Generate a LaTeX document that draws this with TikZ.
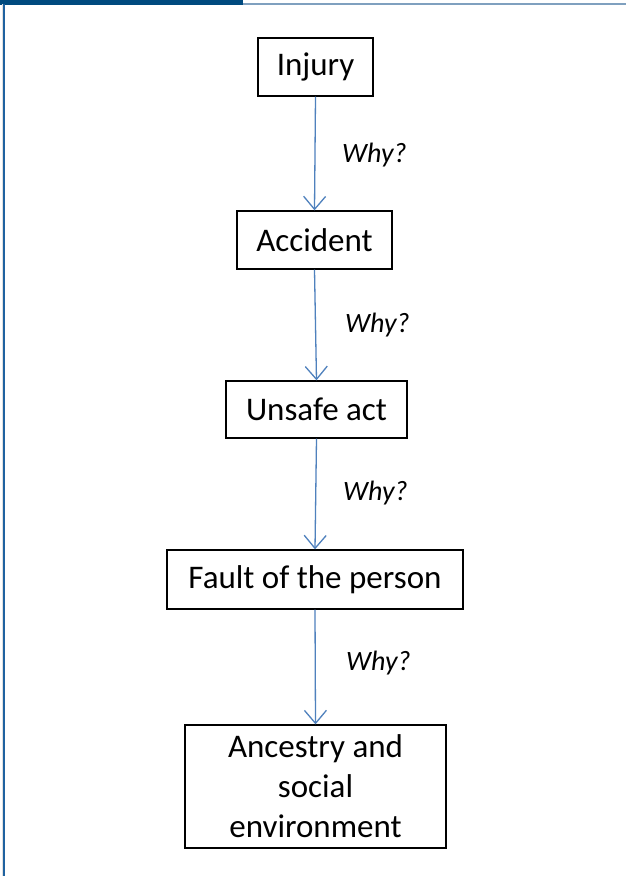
\documentclass[tikz,border=0pt]{standalone}
\usepackage{fontspec}
\setmainfont{Carlito}
\usetikzlibrary{arrows.meta}
\definecolor{barblue}{HTML}{004A7F}
\definecolor{thinline}{HTML}{7FA0BF}
\definecolor{sideblue}{HTML}{1F62A0}
\definecolor{arrowblue}{HTML}{4F81BD}
\begin{document}
\begin{tikzpicture}[x=1pt,y=-1pt,
  box/.style={draw=black,line width=1.3pt,inner sep=0pt,font=\fontsize{33}{40}\selectfont,align=center},
  why/.style={anchor=west,inner sep=0pt,font=\fontsize{28}{32}\selectfont\itshape},
  conn/.style={draw=arrowblue,line width=1.3pt,-{Straight Barb[length=13pt,width=22pt,line width=1.3pt]}}]
\useasboundingbox[fill=white] (0,0) rectangle (626,876);
\fill[barblue] (0,0) rectangle (243,4.5);
\fill[thinline] (243,2.5) rectangle (626,4.5);
\fill[black!12] (2,4) rectangle (3.2,876);
\fill[sideblue] (3.2,4) rectangle (5,876);
\node[box,minimum width=115pt,minimum height=58pt] (inj) at (315.5,67) {Injury};
\node[box,minimum width=155pt,minimum height=58pt] (acc) at (314.5,240) {Accident};
\node[box,minimum width=181pt,minimum height=57pt] (uns) at (316.5,409.5) {Unsafe act};
\node[box,minimum width=296pt,minimum height=59pt] (fau) at (315,579.5) {Fault of the person};
\node[box,minimum width=261pt,minimum height=123pt] (anc) at (315.5,786.5) {Ancestry and\\social\\environment};
\draw[conn] (inj.south) -- (acc.north);
\draw[conn] (acc.south) -- (uns.north);
\draw[conn] (uns.south) -- (fau.north);
\draw[conn] (fau.south) -- (anc.north);
\node[why] (w1) at (342,155) {Why?};
\node[why] (w2) at (345,325) {Why?};
\node[why] (w3) at (343,493) {Why?};
\node[why] (w4) at (346,663) {Why?};
\end{tikzpicture}
\end{document}
